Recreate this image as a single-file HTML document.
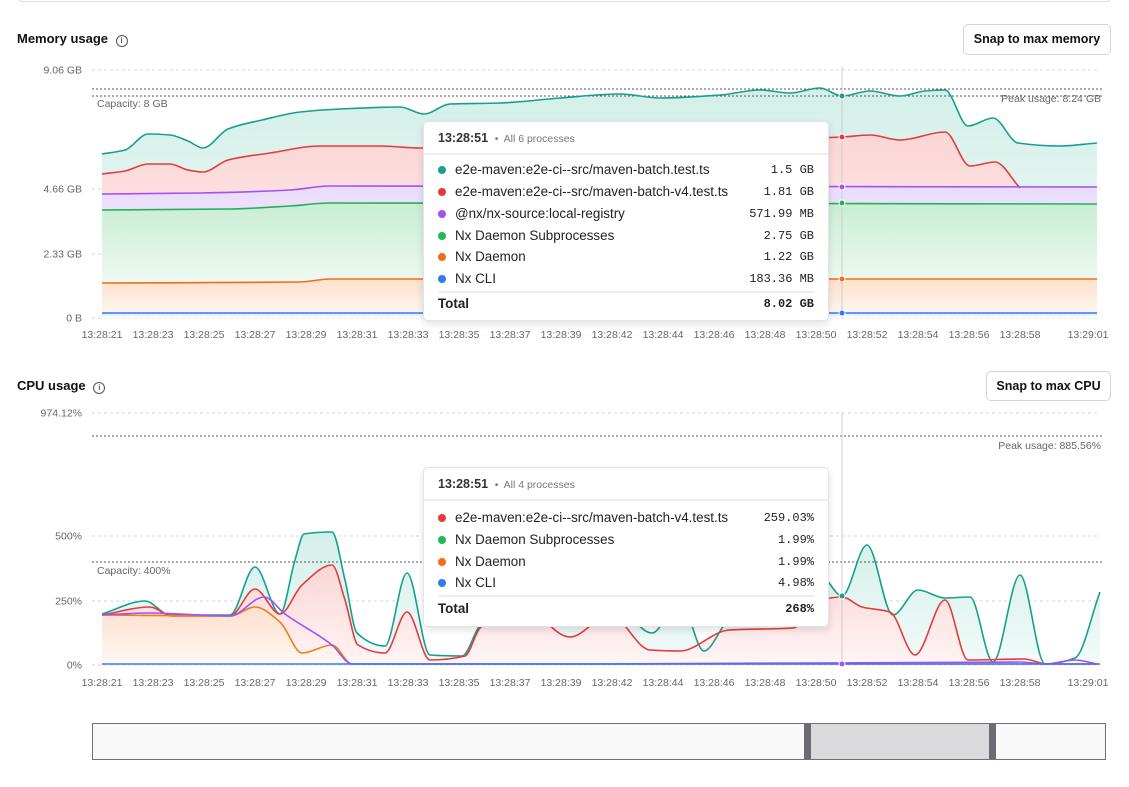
<!DOCTYPE html>
<html><head><meta charset="utf-8"><style>
body{margin:0;background:#fff;width:1129px;height:787px;overflow:hidden;font-family:"Liberation Sans",sans-serif;position:relative}
.h{position:absolute;font-size:13px;font-weight:bold;color:#111}
.btn{position:absolute;border:1px solid #d4d4d8;border-radius:5px;font-size:12.5px;font-weight:bold;color:#111;text-align:center;box-sizing:border-box;background:#fff}
.tt{position:absolute;background:#fff;border:1px solid #e4e4e7;border-radius:5px;box-shadow:0 3px 8px rgba(0,0,0,.12);font-size:13.4px;color:#222}
.tt .hd{height:31px;border-bottom:2px solid #eeeef0;padding-left:14px;line-height:31px}
.tt .hd b{font-size:12.5px;color:#333}
.tt .hd span{font-size:10.5px;color:#777}
.row{position:absolute;left:14px;right:14px;height:20px;line-height:20px}
.row i{display:inline-block;width:8px;height:8px;border-radius:50%;margin-right:9px;vertical-align:0}
.row .v{position:absolute;right:0;top:0;font-family:"Liberation Mono",monospace;font-size:12px}
.sep{position:absolute;left:14px;right:14px;border-top:2px solid #eeeef0}
</style></head><body>
<div style="position:absolute;left:17px;top:-10px;width:1093px;height:10px;border:1px solid #ddd;border-radius:6px"></div>
<div class="h" style="left:17px;top:31px">Memory usage <span style="display:inline-block;width:10px;height:10px;border:1px solid #555;border-radius:50%;font-size:8px;line-height:10px;text-align:center;font-weight:normal;margin-left:4px">i</span></div>
<div class="btn" style="left:963px;top:24px;width:148px;height:31px;line-height:29px">Snap to max memory</div>
<div class="h" style="left:17px;top:378px">CPU usage <span style="display:inline-block;width:10px;height:10px;border:1px solid #555;border-radius:50%;font-size:8px;line-height:10px;text-align:center;font-weight:normal;margin-left:4px">i</span></div>
<div class="btn" style="left:986px;top:371px;width:125px;height:30px;line-height:28px">Snap to max CPU</div>

<svg id="s" width="1129" height="787" style="position:absolute;left:0;top:0" font-family="Liberation Sans, sans-serif"></svg>

<div class="tt" style="left:423px;top:121px;width:404px;height:198px">
<div class="hd"><b>13:28:51</b> <span>&nbsp;•&nbsp; All 6 processes</span></div>
<div class="row" style="top:38px"><i style="background:#14a28e"></i>e2e-maven:e2e-ci--src/maven-batch.test.ts<span class="v">1.5 GB</span></div>
<div class="row" style="top:60px"><i style="background:#e5393c"></i>e2e-maven:e2e-ci--src/maven-batch-v4.test.ts<span class="v">1.81 GB</span></div>
<div class="row" style="top:82px"><i style="background:#a450f5"></i>@nx/nx-source:local-registry<span class="v">571.99 MB</span></div>
<div class="row" style="top:104px"><i style="background:#1fb955"></i>Nx Daemon Subprocesses<span class="v">2.75 GB</span></div>
<div class="row" style="top:125px"><i style="background:#f56c14"></i>Nx Daemon<span class="v">1.22 GB</span></div>
<div class="row" style="top:147px"><i style="background:#3478f6"></i>Nx CLI<span class="v">183.36 MB</span></div>
<div class="sep" style="top:169px"></div>
<div class="row" style="top:172px;font-weight:bold">Total<span class="v" style="font-weight:bold">8.02 GB</span></div>
</div>

<div class="tt" style="left:423px;top:467px;width:404px;height:158px">
<div class="hd"><b>13:28:51</b> <span>&nbsp;•&nbsp; All 4 processes</span></div>
<div class="row" style="top:40px"><i style="background:#e5393c"></i>e2e-maven:e2e-ci--src/maven-batch-v4.test.ts<span class="v">259.03%</span></div>
<div class="row" style="top:62px"><i style="background:#1fb955"></i>Nx Daemon Subprocesses<span class="v">1.99%</span></div>
<div class="row" style="top:84px"><i style="background:#f56c14"></i>Nx Daemon<span class="v">1.99%</span></div>
<div class="row" style="top:105px"><i style="background:#3478f6"></i>Nx CLI<span class="v">4.98%</span></div>
<div class="sep" style="top:127px"></div>
<div class="row" style="top:131px;font-weight:bold">Total<span class="v" style="font-weight:bold">268%</span></div>
</div>

<div style="position:absolute;left:92px;top:723px;width:1012px;height:35px;border:1px solid #707078;background:#f8f8f8"></div>
<div style="position:absolute;left:810px;top:724px;width:180px;height:35px;background:#dadadd"></div>
<div style="position:absolute;left:804px;top:724px;width:7px;height:35px;background:#6b6b73"></div>
<div style="position:absolute;left:989px;top:724px;width:7px;height:35px;background:#6b6b73"></div>

<script>
const S=document.getElementById('s');let h='';
function sm(p){const n=p.length;if(n<3){return 'M'+p.map(q=>q.join(',')).join(' L');}
const dx=[],s=[];for(let i=0;i<n-1;i++){dx[i]=p[i+1][0]-p[i][0];s[i]=(p[i+1][1]-p[i][1])/dx[i];}
const m=[s[0]];for(let i=1;i<n-1;i++){if(s[i-1]*s[i]<=0)m[i]=0;else{m[i]=(3*(dx[i-1]+dx[i]))/((2*dx[i]+dx[i-1])/s[i-1]+(dx[i]+2*dx[i-1])/s[i]);}}m[n-1]=s[n-2];
let d='M'+p[0][0]+','+p[0][1];for(let i=0;i<n-1;i++){const t=dx[i]/3;d+=' C'+(p[i][0]+t)+','+(p[i][1]+m[i]*t)+' '+(p[i+1][0]-t)+','+(p[i+1][1]-m[i+1]*t)+' '+p[i+1][0]+','+p[i+1][1];}return d;}
let gid=0;
function area(p,top,bot,base){gid++;h+=`<linearGradient id="g${gid}" x1="0" y1="0" x2="0" y2="1"><stop offset="0" stop-color="${top}"/><stop offset="1" stop-color="${bot}"/></linearGradient>`;
h+=`<path d="${sm(p)} L${p[p.length-1][0]},${base} L${p[0][0]},${base} Z" fill="url(#g${gid})"/>`;}
function line(p,col){h+=`<path d="${sm(p)}" fill="none" stroke="${col}" stroke-width="1.6"/>`;}
const xs=[[102,'13:28:21'],[153,'13:28:23'],[204,'13:28:25'],[255,'13:28:27'],[306,'13:28:29'],[357,'13:28:31'],[408,'13:28:33'],[459,'13:28:35'],[510,'13:28:37'],[561,'13:28:39'],[612,'13:28:42'],[663,'13:28:44'],[714,'13:28:46'],[765,'13:28:48'],[816,'13:28:50'],[867,'13:28:52'],[918,'13:28:54'],[969,'13:28:56'],[1020,'13:28:58'],[1088,'13:29:01']];
function axis(y){xs.forEach(a=>h+=`<text x="${a[0]}" y="${y}" font-size="10.5" fill="#666" text-anchor="middle">${a[1]}</text>`);}
function grid(ys){ys.forEach(a=>{h+=`<line x1="92" x2="1100" y1="${a[0]}" y2="${a[0]}" stroke="#d4d4d8" stroke-dasharray="3,3"/><text x="82" y="${a[0]+3.5}" font-size="10.5" fill="#666" text-anchor="end">${a[1]}</text>`;});}
grid([[70,'9.06 GB'],[189,'4.66 GB'],[254,'2.33 GB'],[318,'0 B']]);
const teal=[[102,154],[125,150],[148,134],[170,135],[188,141],[203,148],[228,129],[262,120],[300,112],[340,109],[400,107],[424,114],[450,104],[500,103],[560,98],[620,94],[660,98],[720,95],[760,90],[790,93],[820,88],[842,96],[870,91],[900,96],[925,91],[945,90],[968,126],[993,118],[1018,143],[1060,146],[1097,143]];
const red=[[102,174],[125,171],[148,164],[170,164],[188,170],[203,172],[228,160],[270,153],[320,146],[380,146],[420,148],[842,137],[870,135],[900,140],[945,132],[970,166],[995,162],[1020,188]];
const pur=[[102,194],[200,193],[290,190],[330,186],[1097,187]];
const grn=[[102,210],[230,209],[290,206],[330,203],[1097,204]];
const org=[[102,283],[300,282],[330,279],[1097,279]];
const blu=[[102,313],[1097,313]];
area(teal,'#d3efe9','#f4fbfa',318);
area(red,'#fbd5d5','#fff3f3',318);
area(pur,'#eadcfb','#fbf8ff',318);
area(grn,'#c9edd3','#ffffff',318);
area(org,'#fde0cc','#fff8f3',318);
area(blu,'#dce8fd','#ffffff',318);
h+=`<line x1="92" x2="1104" y1="89" y2="89" stroke="#555" stroke-dasharray="2,2"/><line x1="92" x2="1104" y1="96" y2="96" stroke="#555" stroke-dasharray="2,2"/>`;
h+=`<text x="97" y="107" font-size="10.5" fill="#666">Capacity: 8 GB</text><text x="1101" y="102" font-size="10.5" fill="#666" text-anchor="end">Peak usage: 8.24 GB</text>`;
line(teal,'#16a08c');line(red,'#e23c3c');line(pur,'#a450f5');line(grn,'#22b157');line(org,'#f56c14');line(blu,'#3478f6');
h+=`<line x1="842" x2="842" y1="66" y2="318" stroke="#ccc"/>`;
[[96,'#16a08c'],[137,'#e23c3c'],[187,'#a450f5'],[203,'#22b157'],[279,'#f56c14'],[313,'#3478f6']].forEach(d=>h+=`<circle cx="842" cy="${d[0]}" r="3" fill="${d[1]}" stroke="#fff"/>`);
axis(338);
grid([[413,'974.12%'],[536,'500%'],[601,'250%'],[665,'0%']]);
const ct=[[102,614],[145,601],[170,615],[230,615],[255,567],[280,614],[295,560],[304,534],[332,532],[345,580],[357,633],[385,646],[407,573],[430,655],[462,656],[480,625],[520,590],[570,620],[610,600],[652,633],[680,600],[704,651],[729,620],[790,600],[820,575],[842,596],[867,545],[893,615],[918,590],[945,598],[970,597],[993,662],[1020,575],[1045,664],[1075,658],[1100,592]];
const cr=[[102,615],[150,607],[172,616],[230,616],[255,589],[280,614],[302,585],[332,565],[345,600],[358,645],[385,653],[407,612],[430,660],[465,656],[480,628],[520,605],[570,637],[610,615],[650,650],[680,651],[729,630],[793,628],[820,600],[842,597],[862,607],[890,612],[915,655],[945,600],[968,660],[1024,659],[1047,664],[1100,664]];
const cp=[[102,615],[150,613],[230,616],[264,597],[285,614],[332,645],[352,664],[600,664],[1020,662],[1045,664],[1075,660],[1097,664]];
const co=[[102,615],[230,616],[255,607],[280,622],[302,653],[332,645],[352,664],[1097,664]];
area(ct,'#d3efe9','#f2fbf9',665);
area(cr,'#fbd5d5','#fff5f5',665);
area(co,'#fde0cc','#fff8f4',665);
h+=`<line x1="92" x2="1104" y1="436" y2="436" stroke="#555" stroke-dasharray="2,2"/><line x1="92" x2="1104" y1="562" y2="562" stroke="#555" stroke-dasharray="2,2"/>`;
h+=`<text x="97" y="574" font-size="10.5" fill="#666">Capacity: 400%</text><text x="1101" y="449" font-size="10.5" fill="#666" text-anchor="end">Peak usage: 885.56%</text>`;
line(ct,'#16a08c');line(cr,'#e23c3c');line(co,'#f57a1a');line(cp,'#a450f5');
h+=`<line x1="102" x2="1097" y1="664" y2="664" stroke="#3478f6" stroke-width="1.5"/>`;
h+=`<line x1="842" x2="842" y1="413" y2="665" stroke="#ccc"/><circle cx="842" cy="596" r="3" fill="#16a08c" stroke="#fff"/><circle cx="842" cy="664" r="3" fill="#a450f5" stroke="#fff"/>`;
axis(686);
S.innerHTML=h;
</script>
</body></html>
